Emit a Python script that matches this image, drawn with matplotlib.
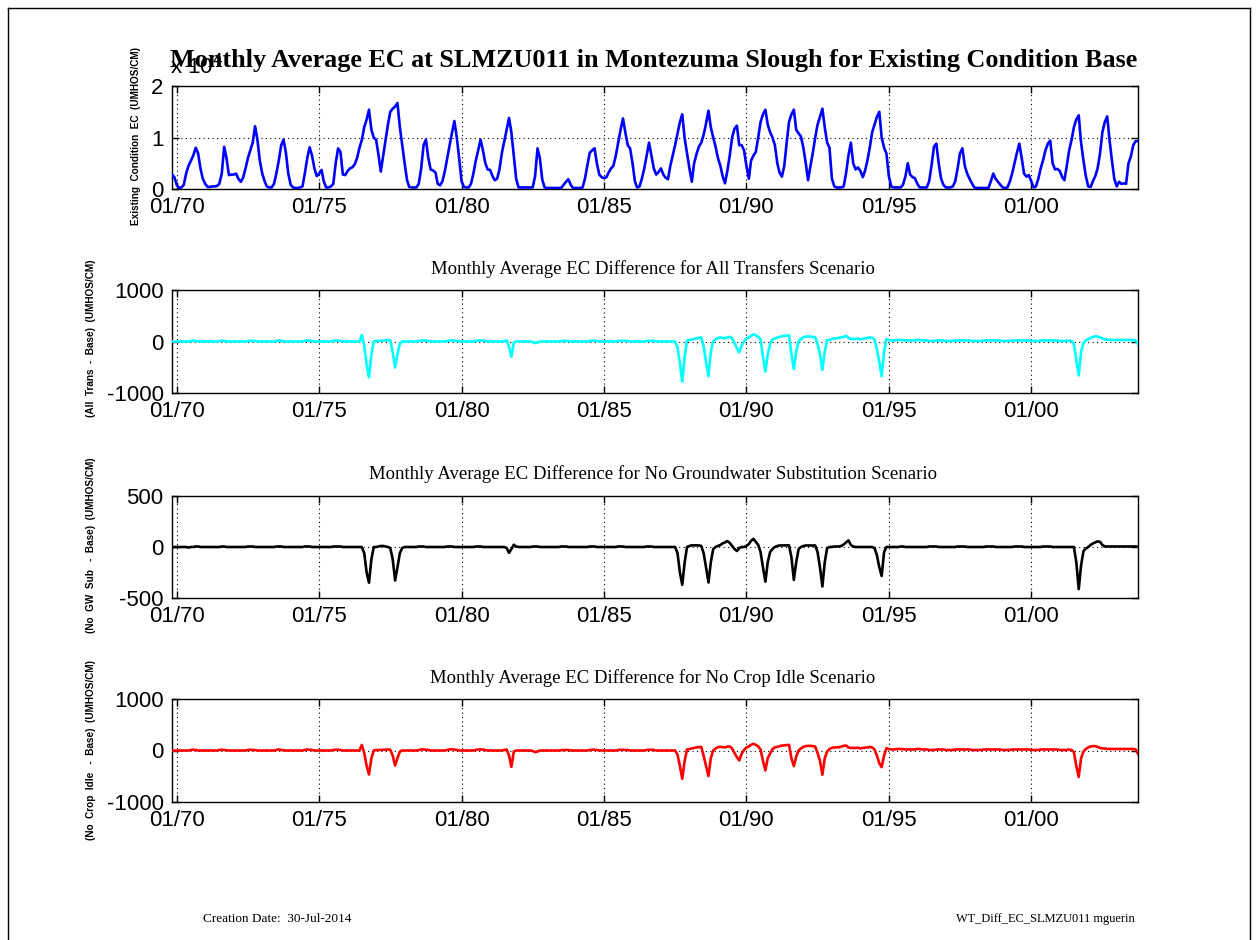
import numpy as np
import pandas as pd
import matplotlib
matplotlib.use("Agg")
import matplotlib.pyplot as plt
import matplotlib.dates as mdates
from matplotlib.ticker import FixedLocator, FuncFormatter
from matplotlib.lines import Line2D

plt.rcParams["axes.unicode_minus"] = False

# ---------------- data (water years Oct-Sep, WY1970 .. WY2003) ----------------
start_month = "1969-11-01"   # end-of-October-1969 stamp (monthly end-of-period values)
n_months = 408

# Existing Condition Base EC (umhos/cm), one row per water year (Oct..Sep)
base_ec = [
    [2800, 2300, 800, 200, 300, 800, 3000, 4500, 5500, 6500, 8000, 7000],
    [4000, 2000, 1000, 400, 400, 500, 500, 600, 1000, 3000, 8200, 6000],
    [2700, 2800, 2800, 3000, 2000, 1400, 2200, 4000, 6000, 7500, 9000, 12200],
    [9500, 5500, 3000, 1500, 500, 300, 300, 1000, 3000, 5500, 8500, 9600],
    [7000, 3000, 800, 300, 200, 200, 300, 500, 3000, 6000, 8100, 6500],
    [4000, 2500, 3000, 3700, 1500, 300, 300, 500, 1000, 5000, 7900, 7200],
    [2800, 2700, 3500, 4000, 4200, 4800, 6000, 8000, 9500, 12000, 13500, 15400],
    [11500, 10000, 9500, 6500, 3400, 6500, 9500, 12500, 15000, 15600, 16000, 16700],
    [12000, 8500, 5000, 1700, 400, 300, 300, 300, 1000, 4000, 8500, 9600],
    [6000, 3800, 3600, 3200, 1000, 700, 1500, 3500, 6000, 8500, 11000, 13200],
    [10000, 6000, 1500, 400, 300, 300, 1000, 3000, 5500, 7500, 9600, 7500],
    [5000, 3800, 3700, 2500, 1700, 2000, 3800, 7000, 9200, 11500, 13800, 11000],
    [6500, 2000, 300, 300, 300, 300, 300, 300, 300, 2500, 7900, 6000],
    [1800, 300, 200, 200, 200, 200, 200, 200, 200, 800, 1400, 1900],
    [800, 200, 200, 200, 200, 300, 2000, 4500, 7000, 7500, 7900, 5000],
    [2800, 2300, 2100, 2300, 3200, 4000, 4500, 6500, 9000, 11500, 13700, 11000],
    [8500, 7900, 5000, 1500, 300, 500, 2000, 4000, 6500, 9000, 6500, 4000],
    [2800, 3300, 4000, 2800, 2200, 1900, 4500, 6500, 8500, 10800, 13000, 14500],
    [9800, 7000, 4000, 1400, 5000, 6800, 8200, 9000, 10500, 12700, 15200, 12000],
    [10000, 8200, 6000, 4500, 2500, 1100, 3500, 6500, 10000, 11700, 12300, 8500],
    [8500, 7500, 4500, 2000, 5500, 6500, 7200, 10000, 13000, 14500, 15400, 12500],
    [11000, 10000, 8500, 5000, 3200, 2400, 4500, 9000, 13000, 14500, 15400, 11500],
    [10800, 10200, 8000, 5000, 1700, 4500, 7000, 10000, 12500, 14000, 15600, 12000],
    [9000, 8000, 2000, 500, 300, 300, 300, 500, 3000, 6500, 9000, 5000],
    [3800, 4200, 3500, 2300, 3500, 5500, 8000, 11000, 12500, 14000, 15000, 10000],
    [8000, 6900, 2500, 500, 300, 300, 300, 300, 800, 2400, 5000, 2800],
    [2300, 2100, 1000, 300, 300, 300, 300, 1500, 4500, 8200, 8800, 5000],
    [2000, 800, 300, 300, 300, 500, 1500, 4000, 6900, 7900, 4500, 3000],
    [2000, 1100, 300, 200, 200, 200, 200, 200, 200, 1500, 3000, 2000],
    [1400, 800, 300, 200, 300, 1400, 3000, 5000, 7000, 8800, 6000, 3000],
    [2400, 2700, 1500, 300, 500, 2000, 4000, 5600, 7500, 8800, 9400, 5000],
    [3800, 3900, 3500, 2300, 1700, 4500, 7500, 9500, 12000, 13500, 14300, 9000],
    [5500, 2500, 500, 400, 1500, 2500, 4000, 6900, 11000, 13000, 14100, 9500],
    [5500, 2000, 500, 1400, 1000, 1100, 1000, 5000, 6300, 8500, 9300, 9300],
]

# All Transfers - Base (umhos/cm)
diff_all_trans = [
    [0, 0, 0, 0, 0, 0, 0, 0, 10, 15, 10, 0],
    [0, 0, 0, 0, 0, 0, 0, 0, 10, 15, 10, 5],
    [0, 0, 0, 0, 0, 0, 0, 0, 10, 15, 10, 10],
    [0, 0, 0, 0, 0, 0, 0, 0, 10, 20, 10, 5],
    [0, 0, 0, 0, 0, 0, 0, 0, 10, 20, 15, 10],
    [0, 0, 0, 0, 0, 0, 0, 0, 10, 15, 15, 10],
    [0, 0, 0, 0, 0, 0, 0, 0, 127, -80, -450, -696],
    [-250, 0, 10, 10, 15, 20, 20, 30, 25, -200, -506, -250],
    [-40, 0, 0, 0, 0, 0, 0, 0, 10, 20, 20, 15],
    [10, 0, 0, 0, 0, 0, 0, 0, 10, 20, 25, 15],
    [10, 0, 0, 0, 0, 0, 0, 0, 10, 20, 20, 20],
    [10, 0, 0, 0, 0, 0, 0, 0, 10, 20, -100, -297],
    [-20, 0, 0, 0, 0, 0, 0, 0, -10, -30, -20, 0],
    [0, 0, 0, 0, 0, 0, 0, 0, 5, 10, 10, 10],
    [0, 0, 0, 0, 0, 0, 0, 0, 10, 15, 15, 10],
    [0, 0, 0, 0, 0, 0, 0, 0, 10, 15, 15, 10],
    [10, 0, 0, 0, 0, 0, 0, 0, 10, 15, 15, 10],
    [0, 0, 0, 0, 0, 0, 0, 0, 0, -120, -420, -778],
    [-300, 20, 30, 40, 50, 60, 70, 80, -100, -400, -675, -200],
    [0, 40, 70, 77, 70, 60, 80, 90, 60, -30, -130, -210],
    [-80, 0, 60, 80, 110, 140, 120, 90, 50, -300, -585, -250],
    [-50, 40, 60, 77, 90, 100, 110, 115, 120, -250, -535, -200],
    [0, 50, 80, 97, 97, 97, 90, 80, -50, -250, -550, -200],
    [30, 30, 50, 60, 60, 70, 80, 90, 110, 70, 50, 50],
    [50, 60, 40, 50, 60, 70, 80, 70, 40, -150, -400, -675],
    [-200, 45, 30, 20, 20, 25, 30, 30, 25, 20, 20, 20],
    [20, 20, 30, 30, 20, 20, 20, 10, 10, 10, 20, 20],
    [20, 20, 10, 10, 10, 10, 20, 20, 20, 20, 20, 20],
    [20, 10, 10, 10, 10, 10, 20, 20, 20, 20, 20, 20],
    [20, 20, 10, 10, 10, 10, 20, 20, 20, 20, 20, 20],
    [20, 20, 10, 10, 10, 10, 20, 20, 20, 20, 20, 20],
    [20, 20, 10, 10, 10, 10, 20, 10, -50, -350, -660, -200],
    [-30, 20, 45, 70, 90, 97, 97, 80, 60, 40, 40, 30],
    [30, 30, 30, 30, 30, 30, 30, 30, 30, 30, 20, -50],
]

# No GW Substitution - Base (umhos/cm)
diff_no_gw_sub = [
    [0, 0, 0, 0, 0, 0, 0, -5, 0, 0, 5, 5],
    [0, 0, 0, 0, 0, 0, 0, 0, 0, 5, 5, 0],
    [0, 0, 0, 0, 0, 0, 0, 0, 5, 5, 5, 0],
    [0, 0, 0, 0, 0, 0, 0, 0, 5, 5, 5, 0],
    [0, 0, 0, 0, 0, 0, 0, 0, 5, 5, 5, 0],
    [0, 0, 0, 0, 0, 0, 0, 0, 5, 5, 5, 5],
    [0, 0, 0, 0, 0, 0, 0, 0, 0, -60, -250, -350],
    [-120, 0, 0, 5, 10, 10, 5, 0, -10, -120, -328, -200],
    [-60, -10, 0, 0, 0, 0, 0, 0, 5, 5, 5, 0],
    [0, 0, 0, 0, 0, 0, 0, 0, 5, 5, 5, 0],
    [0, 0, 0, 0, 0, 0, 0, 0, 5, 5, 5, 0],
    [0, 0, 0, 0, 0, 0, 0, 0, 0, -10, -57, -20],
    [22, 5, 0, 0, 0, 0, 0, 0, 5, 5, 5, 0],
    [0, 0, 0, 0, 0, 0, 0, 0, 5, 5, 5, 0],
    [0, 0, 0, 0, 0, 0, 0, 0, 5, 5, 5, 0],
    [0, 0, 0, 0, 0, 0, 0, 0, 5, 5, 5, 0],
    [0, 0, 0, 0, 0, 0, 0, 0, 5, 5, 5, 0],
    [0, 0, 0, 0, 0, 0, 0, 0, 0, -60, -250, -371],
    [-150, 0, 10, 16, 16, 16, 16, 10, -60, -200, -348, -150],
    [-20, 0, 10, 20, 35, 45, 58, 40, 10, -20, -39, -10],
    [0, 0, 10, 30, 60, 80, 50, 20, -50, -200, -340, -150],
    [-48, -20, 0, 10, 15, 15, 16, 16, 16, -100, -323, -150],
    [-20, 0, 10, 15, 15, 15, 15, 15, -50, -200, -387, -150],
    [-10, 0, 0, 5, 5, 5, 10, 25, 45, 65, 20, 5],
    [0, 0, 0, 0, 0, 0, 0, 0, -10, -80, -200, -284],
    [-50, 0, 0, 0, 0, 0, 0, 5, 5, 0, 0, 0],
    [0, 0, 0, 0, 0, 0, 0, 5, 5, 5, 5, 0],
    [0, 0, 0, 0, 0, 0, 0, 5, 5, 5, 5, 0],
    [0, 0, 0, 0, 0, 0, 0, 5, 5, 5, 5, 0],
    [0, 0, 0, 0, 0, 0, 0, 5, 5, 5, 5, 0],
    [0, 0, 0, 0, 0, 0, 0, 5, 5, 5, 5, 0],
    [0, 0, 0, 0, 0, 0, 0, 0, 0, -150, -413, -180],
    [-40, -15, 0, 20, 35, 45, 55, 50, 20, 5, 5, 5],
    [5, 5, 5, 5, 5, 5, 5, 5, 5, 5, 5, 5],
]

# No Crop Idle - Base (umhos/cm)
diff_no_crop_idle = [
    [0, 0, 0, 0, 0, 0, 0, 0, 10, 15, 10, 0],
    [0, 0, 0, 0, 0, 0, 0, 0, 10, 15, 10, 5],
    [0, 0, 0, 0, 0, 0, 0, 0, 10, 15, 10, 10],
    [0, 0, 0, 0, 0, 0, 0, 0, 10, 20, 10, 5],
    [0, 0, 0, 0, 0, 0, 0, 0, 10, 20, 15, 10],
    [0, 0, 0, 0, 0, 0, 0, 0, 10, 15, 15, 10],
    [0, 0, 0, 0, 0, 0, 0, 0, 108, -50, -300, -465],
    [-150, 0, 10, 10, 10, 15, 15, 20, 15, -100, -293, -150],
    [-20, 0, 0, 0, 0, 0, 0, 0, 10, 20, 20, 15],
    [10, 0, 0, 0, 0, 0, 0, 0, 10, 20, 25, 15],
    [10, 0, 0, 0, 0, 0, 0, 0, 10, 20, 20, 20],
    [10, 0, 0, 0, 0, 0, 0, 0, 10, 20, -100, -318],
    [-20, 0, 0, 0, 0, 0, 0, 0, -10, -30, -20, 0],
    [0, 0, 0, 0, 0, 0, 0, 0, 5, 10, 10, 10],
    [0, 0, 0, 0, 0, 0, 0, 0, 10, 15, 15, 10],
    [0, 0, 0, 0, 0, 0, 0, 0, 10, 15, 15, 10],
    [10, 0, 0, 0, 0, 0, 0, 0, 10, 15, 15, 10],
    [0, 0, 0, 0, 0, 0, 0, 0, 0, -80, -300, -548],
    [-200, 20, 30, 40, 50, 60, 65, 70, -100, -300, -497, -150],
    [0, 40, 65, 70, 65, 60, 75, 80, 40, -50, -130, -194],
    [-60, 10, 60, 80, 110, 130, 110, 80, 20, -200, -387, -150],
    [-60, 30, 60, 70, 85, 95, 100, 105, 110, -150, -303, -120],
    [0, 40, 70, 85, 90, 90, 85, 75, -50, -200, -471, -150],
    [-20, 30, 50, 60, 60, 65, 75, 90, 97, 60, 50, 50],
    [50, 55, 40, 50, 55, 60, 70, 60, 20, -100, -250, -323],
    [-100, 45, 30, 20, 20, 25, 30, 30, 25, 20, 20, 20],
    [20, 20, 30, 30, 20, 20, 20, 10, 10, 10, 20, 20],
    [20, 20, 10, 10, 10, 10, 20, 20, 20, 20, 20, 20],
    [20, 10, 10, 10, 10, 10, 20, 20, 20, 20, 20, 20],
    [20, 20, 10, 10, 10, 10, 20, 20, 20, 20, 20, 20],
    [20, 20, 10, 10, 10, 10, 20, 20, 20, 20, 20, 20],
    [20, 20, 10, 10, 10, 10, 20, 10, -30, -300, -516, -150],
    [-20, 30, 60, 80, 84, 84, 70, 50, 40, 40, 30, 30],
    [30, 30, 30, 30, 30, 30, 30, 30, 30, 30, 20, -65],
]

main_title = "Monthly Average EC at SLMZU011 in Montezuma Slough for Existing Condition Base"
sub_titles = [
    "Monthly Average EC Difference for All Transfers Scenario",
    "Monthly Average EC Difference for No Groundwater Substitution Scenario",
    "Monthly Average EC Difference for No Crop Idle Scenario",
]
y_labels = [
    "Existing  Condition  EC  (UMHOS/CM)",
    "(All  Trans  -  Base)  (UMHOS/CM)",
    "(No  GW  Sub   -  Base)  (UMHOS/CM)",
    "(No  Crop  Idle   -  Base)  (UMHOS/CM)",
]
y_ticks = [[0, 10000, 20000], [-1000, 0, 1000], [-500, 0, 500], [-1000, 0, 1000]]
line_colors = ["#0000FF", "#00FFFF", "#000000", "#FF0000"]
footer_left = "Creation Date:  30-Jul-2014"
footer_right = "WT_Diff_EC_SLMZU011 mguerin"

# ---------------- figure ----------------
W, H = 1257, 940
fig = plt.figure(figsize=(W / 100, H / 100), dpi=100)
fig.patch.set_facecolor("white")

dates = pd.date_range(start_month, periods=n_months, freq="MS")
series = [np.array(s, dtype=float).ravel() for s in
          (base_ec, diff_all_trans, diff_no_gw_sub, diff_no_crop_idle)]

# axes boxes in pixels: (top, bottom)
boxes = [(86, 189), (290, 393), (496, 598), (699, 802)]
left_px, right_px = 172, 1138
sub_title_y = [None, 269, 474, 678]
ylabel_pos = [(136, 136), (91, 338), (91, 545), (91, 750)]

sans = "Liberation Sans"
serif = "Liberation Serif"

axes = []
for k, (top, bot) in enumerate(boxes):
    ax = fig.add_axes([left_px / W, 1 - bot / H, (right_px - left_px) / W, (bot - top) / H])
    axes.append(ax)
    ax.plot(dates, series[k], color=line_colors[k], linewidth=1.9, zorder=3)
    ax.set_xlim(dates[0], dates[-1])
    ax.set_ylim(y_ticks[k][0], y_ticks[k][-1])
    ax.yaxis.set_major_locator(FixedLocator(y_ticks[k]))
    ax.xaxis.set_major_locator(mdates.YearLocator(5))
    ax.xaxis.set_major_formatter(mdates.DateFormatter("%m/%y"))
    ax.grid(True, linestyle=(0, (1, 3)), color="black", linewidth=0.8)
    ax.tick_params(direction="in", top=True, right=True, length=5, width=1.0,
                   labelsize=16)
    ax.tick_params(axis="x", pad=6)
    ax.tick_params(axis="y", pad=6)
    for sp in ax.spines.values():
        sp.set_linewidth(1.0)
    xl, yl = ylabel_pos[k]
    fig.text(xl / W, 1 - yl / H, y_labels[k], rotation=90, ha="center", va="center",
             fontsize=7.2, fontweight="bold", family=sans)
    if sub_title_y[k] is not None:
        fig.text(653 / W, 1 - sub_title_y[k] / H, sub_titles[k - 1], ha="center",
                 va="center", fontsize=13.5, family=serif)

axes[0].yaxis.set_major_formatter(FuncFormatter(lambda v, p: f"{v / 1e4:g}"))
for ax in axes:
    for lab in ax.get_xticklabels() + ax.get_yticklabels():
        lab.set_fontfamily(sans)

# exponent label
fig.text(170 / W, 1 - 74 / H, r"x 10$^{4}$", ha="left", va="baseline",
         fontsize=16, family=sans, zorder=1)
# main title
fig.text(653.5 / W, 1 - 61 / H, main_title, ha="center", va="center",
         fontsize=18.8, fontweight="bold", family=serif, zorder=5)

# footers
fig.text(203 / W, 1 - 919 / H, footer_left, ha="left", va="center",
         fontsize=9.5, family=serif)
fig.text(1135 / W, 1 - 919 / H, footer_right, ha="right", va="center",
         fontsize=8.9, family=serif)

# page frame
for (x0, y0, x1, y1) in [(8, 8, 8, 945), (8, 8, 1250, 8), (1250, 8, 1250, 945)]:
    fig.add_artist(Line2D([x0 / W, x1 / W], [1 - y0 / H, 1 - y1 / H],
                          transform=fig.transFigure, color="black", linewidth=1.0))

fig.savefig("out.png", dpi=100, facecolor="white")
